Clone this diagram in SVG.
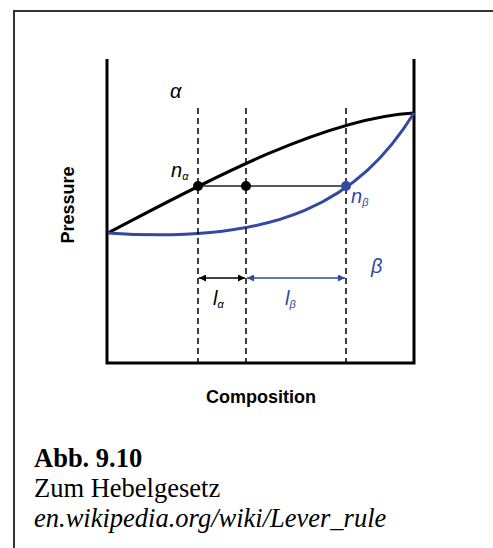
<svg xmlns="http://www.w3.org/2000/svg" width="493" height="548" viewBox="0 0 493 548">
<style>
.ax{fill:none;stroke:#000;stroke-width:3}
.dash{fill:none;stroke:#000;stroke-width:1.5;stroke-dasharray:6 4}
.sans{font-family:"Liberation Sans",Arial,sans-serif}
.gr{font-family:"Liberation Sans",Arial,sans-serif;font-style:italic}
.serif{font-family:"Liberation Serif","Times New Roman",serif;font-size:26.5px;fill:#000}
.blue{fill:#3447a3}
</style>
<defs>
<marker id="ak" viewBox="0 0 10 10" refX="10" refY="5" markerWidth="8" markerHeight="7" markerUnits="userSpaceOnUse" orient="auto-start-reverse"><path d="M0,0L10,5L0,10z" fill="#000"/></marker>
<marker id="ab" viewBox="0 0 10 10" refX="10" refY="5" markerWidth="8" markerHeight="7" markerUnits="userSpaceOnUse" orient="auto-start-reverse"><path d="M0,0L10,5L0,10z" fill="#3447a3"/></marker>
</defs>
<rect x="14" y="11" width="500" height="560" fill="none" stroke="#333" stroke-width="2"/>
<g id="axes">
<path class="ax" d="M107,59V363H414V59"/>
</g>
<g id="curves">
<path d="M108,233 C190,190 320,118 414,113" fill="none" stroke="#000" stroke-width="3"/>
<path d="M108,233 C280,245 360,200 414,113" fill="none" stroke="#3447a3" stroke-width="3"/>
</g>
<g id="connectors">
<path class="dash" d="M198,108V363"/>
<path class="dash" d="M246,108V363"/>
<path class="dash" d="M346,108V363"/>
<path d="M198,186H346" stroke="#222" stroke-width="1.5"/>
<path d="M199,278H245" stroke="#000" stroke-width="1.5" marker-start="url(#ak)" marker-end="url(#ak)"/>
<path d="M247,278H345" stroke="#3447a3" stroke-width="1.5" marker-start="url(#ab)" marker-end="url(#ab)"/>
</g>
<g id="points">
<circle cx="198" cy="186" r="5" fill="#000"/>
<circle cx="246" cy="186" r="5" fill="#000"/>
<circle cx="346" cy="186" r="5" fill="#3447a3"/>
</g>
<g id="labels">
<text class="gr" x="170" y="98" font-size="20">α</text>
<text class="gr" x="171" y="177" font-size="20">n<tspan font-size="11" dy="3">α</tspan></text>
<text class="gr blue" x="351" y="203" font-size="20">n<tspan font-size="11" dy="3">β</tspan></text>
<text class="gr blue" x="371" y="273" font-size="20">β</text>
<text class="gr" x="213" y="305" font-size="20">l<tspan font-size="11" dy="3">α</tspan></text>
<text class="gr blue" x="285" y="305" font-size="20">l<tspan font-size="11" dy="3">β</tspan></text>
<text class="sans" x="74" y="205" font-size="18" font-weight="bold" text-anchor="middle" transform="rotate(-90 74 205)">Pressure</text>
<text class="sans" x="261" y="403" font-size="18" font-weight="bold" text-anchor="middle">Composition</text>
</g>
<g id="caption">
<text class="serif" x="34" y="467" font-weight="bold">Abb. 9.10</text>
<text class="serif" x="34" y="497">Zum Hebelgesetz</text>
<text class="serif" x="34" y="527" font-style="italic">en.wikipedia.org/wiki/Lever_rule</text>
</g>
</svg>
